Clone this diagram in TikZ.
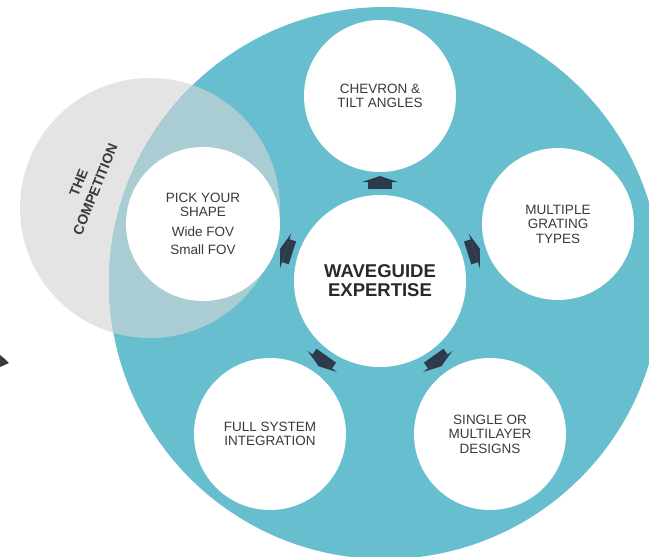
\documentclass[tikz,border=0pt]{standalone}
\usepackage{fontspec}
\setmainfont{Liberation Sans}
\usetikzlibrary{arrows.meta,calc}
\definecolor{teal1}{HTML}{66BECF}
\definecolor{grayc}{HTML}{E4E4E4}
\definecolor{overlapc}{HTML}{AACDD4}
\definecolor{navy}{HTML}{2C3A4C}
\definecolor{txt}{HTML}{3A3A3A}
\tikzset{
 bubble/.style={circle, fill=white, minimum size=152pt, inner sep=0pt, align=center, text=txt, font=\fontsize{13.5}{14.5}\selectfont},
 hub/.style={circle, fill=white, minimum size=172pt, inner sep=0pt, align=center, text=txt!70!black, font=\bfseries\fontsize{18.5}{19}\selectfont},
 blockarrow/.style={draw=navy, line width=24pt, -{Triangle[length=6pt,width=36pt,line width=0pt]}},
 comptext/.style={rotate=68, text=txt, align=center, font=\bfseries\fontsize{14}{18}\selectfont},
}
\begin{document}
\begin{tikzpicture}[x=1pt,y=-1pt]
\useasboundingbox (0,0) rectangle (649,557);
\clip (0,0) rectangle (649,557);
\fill[white] (0,0) rectangle (649,557);
% background shapes
\fill[grayc] (150,208) circle (130pt);
\fill[teal1] (385,283) circle (276pt);
\begin{scope}
  \clip (385,283) circle (276pt);
  \fill[overlapc] (150,208) circle (130pt);
\end{scope}
% small fragment at the left edge
\fill[txt] (0,355) -- (5,359) -- (9,363) -- (0,367) -- cycle;
% competition label
\node[comptext] (comp) at (87,186) {THE\\COMPETITION};
% circles
\node[hub] (c) at (380,281) {WAVEGUIDE\\EXPERTISE};
\node[bubble] (n1) at (380,96) {CHEVRON \&\\TILT ANGLES};
\node[bubble] (n2) at (558,224) {MULTIPLE\\GRATING\\TYPES};
\node[bubble] (n3) at (490,434) {SINGLE OR\\MULTILAYER\\DESIGNS};
\node[bubble] (n4) at (270,434) {FULL SYSTEM\\INTEGRATION};
\node[bubble, minimum size=154pt] (n5) at (203,224) {PICK YOUR\\SHAPE\\[5pt]Wide FOV\\[4pt]Small FOV};
% block arrows
\foreach \n in {n1,n2,n3,n4,n5}
  \draw[blockarrow] ($(c)!92pt!(\n)$) -- ($(c)!105pt!(\n)$);
\end{tikzpicture}
\end{document}
